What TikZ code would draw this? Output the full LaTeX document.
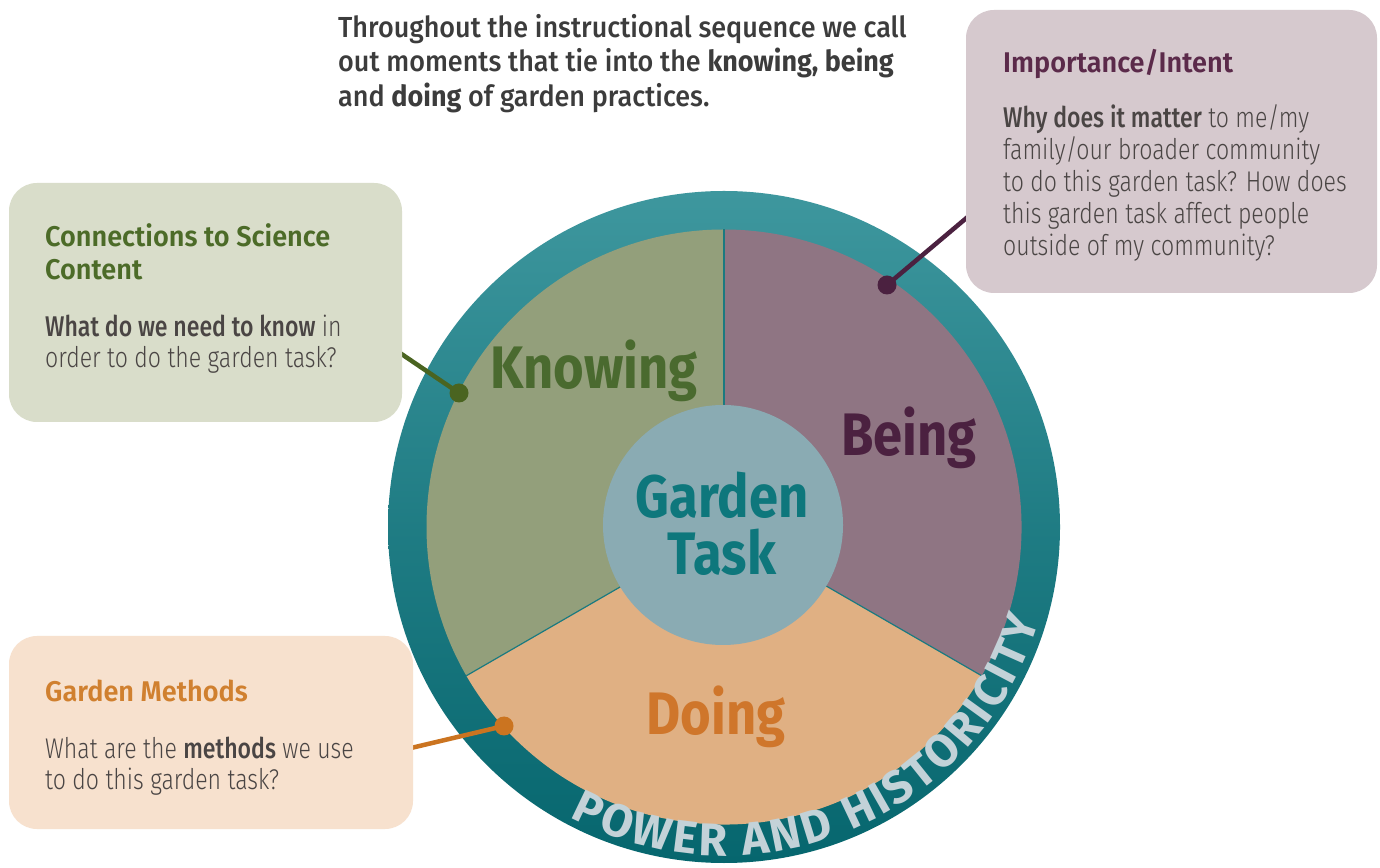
\documentclass[tikz,border=0pt]{standalone}
\usepackage{fontspec}
\usetikzlibrary{decorations.text}
\setmainfont{Fira Sans}
\newfontfamily\tfont[FakeStretch=0.93]{Fira Sans Medium}
\newfontfamily\tbold[FakeStretch=0.93]{Fira Sans Bold}
\newfontfamily\hfont[FakeStretch=0.95]{Fira Sans SemiBold}
\newfontfamily\bfont[FakeStretch=0.81]{Fira Sans Light}
\newfontfamily\bbold[FakeStretch=0.81]{Fira Sans Medium}
\newfontfamily\bigfont[FakeStretch=0.875]{Fira Sans Bold}
\newfontfamily\ringfont{Fira Sans Bold}
\definecolor{titlecol}{HTML}{3C3C3C}
\definecolor{bodycol}{HTML}{4A4544}
\definecolor{ringtop}{HTML}{3E979E}
\definecolor{ringbot}{HTML}{06666E}
\definecolor{ringtext}{HTML}{C3D2D8}
\definecolor{knowfill}{HTML}{939F7B}
\definecolor{knowtext}{HTML}{4A6A2F}
\definecolor{beingfill}{HTML}{8F7583}
\definecolor{beingtext}{HTML}{4B2140}
\definecolor{doingfill}{HTML}{E0B083}
\definecolor{doingtext}{HTML}{CF762B}
\definecolor{centerfill}{HTML}{8AABB3}
\definecolor{centertext}{HTML}{0E777C}
\definecolor{divider}{HTML}{1A7A80}
\definecolor{gbox}{HTML}{D9DDCA}
\definecolor{ghead}{HTML}{4C6B28}
\definecolor{gline}{HTML}{4A6420}
\definecolor{pbox}{HTML}{D6C9CE}
\definecolor{phead}{HTML}{5B2A4A}
\definecolor{pline}{HTML}{4B2140}
\definecolor{obox}{HTML}{F7E1CE}
\definecolor{ohead}{HTML}{D0802F}
\definecolor{oline}{HTML}{CB7420}
\tikzset{
  infobox/.style={rounded corners=28pt, inner sep=0pt, draw=none},
  titletxt/.style={anchor=base west, inner sep=0pt, text=titlecol, font=\tfont\fontsize{29}{35}\selectfont},
  headtxt/.style={anchor=base west, inner sep=0pt, font=\hfont\fontsize{28.5}{33}\selectfont},
  bodytxt/.style={anchor=base west, inner sep=0pt, text=bodycol, font=\bfont\fontsize{28.5}{32}\selectfont},
  bigtxt/.style={anchor=base, inner sep=0pt, font=\bigfont\fontsize{60}{60}\selectfont},
  dot/.style={circle, inner sep=0pt, minimum size=19pt},
  conn/.style={line width=4.5pt}
}
\begin{document}
\begin{tikzpicture}[x=1pt,y=1pt]
\useasboundingbox (0,0) rectangle (1380,867);
\fill[white] (0,0) rectangle (1380,867);
\coordinate (C) at (724,340);
% ring
\shade[top color=ringtop, bottom color=ringbot, middle color=ringtop!45!ringbot] (C) circle (336);
% sectors
\fill[knowfill] (C) -- ++(90:297.5) arc (90:210:297.5) -- cycle;
\fill[doingfill] (C) -- ++(210:297.5) arc (210:330:297.5) -- cycle;
\fill[beingfill] (C) -- ++(330:297.5) arc (330:450:297.5) -- cycle;
\draw[divider, line width=1.2pt] (C) -- ++(90:297.5);
\draw[divider, line width=1.2pt] (C) -- ++(210:297.5);
\draw[divider, line width=1.2pt] (C) -- ++(330:297.5);
% center
\node[circle, fill=centerfill, minimum size=240pt, inner sep=0pt] (task) at (723,342) {};
\node[bigtxt, text=centertext] (garden) at (722,349) {Garden};
\node[bigtxt, text=centertext] (tasklbl) at (722,292) {Task};
\node[bigtxt, text=knowtext] (knowing) at (594,478) {Knowing};
\node[bigtxt, text=beingtext] (being) at (909,411) {Being};
\node[bigtxt, text=doingtext] (doing) at (716,132) {Doing};
% ring text
\path[decorate, decoration={text along path, text align=fit to path,
  text={|\ringfont\fontsize{46}{46}\selectfont\color{ringtext}|POWER AND HISTORICITY}}]
  (C) ++(242:329) arc (242:343.5:329);
% title
\node[titletxt] (t1) at (338,829) {Throughout the instructional sequence we call};
\node[titletxt] (t2) at (338,795) {out moments that tie into the {\tbold knowing, being}};
\node[titletxt] (t3) at (338,760) {and {\tbold doing} of garden practices.};
% connectors
\node[dot, fill=gline] (gdot) at (459,474) {};
\node[dot, fill=pline] (pdot) at (887,582) {};
\node[dot, fill=oline] (odot) at (504,141) {};
\coordinate (gend) at (400,514);
\coordinate (pend) at (970,652);
\coordinate (oend) at (411,119);
\draw[conn, gline] (gdot.center) -- (gend);
\draw[conn, pline] (pdot.center) -- (pend);
\draw[conn, oline] (odot.center) -- (oend);
% boxes
\node[infobox, fill=gbox, minimum width=393pt, minimum height=239pt] (greenbox) at (205.5,564.5) {};
\node[infobox, fill=pbox, minimum width=411pt, minimum height=283pt] (purplebox) at (1171.5,715.5) {};
\node[infobox, fill=obox, minimum width=404pt, minimum height=193pt] (orangebox) at (211,134.5) {};
% green box text
\node[headtxt, text=ghead] (gh1) at (45,620) {Connections to Science};
\node[headtxt, text=ghead] (gh2) at (45,587) {Content};
\node[bodytxt] (gb1) at (45,530) {{\bbold What do we need to know} in};
\node[bodytxt] (gb2) at (45,499) {order to do the garden task?};
% purple box text
\node[headtxt, text=phead] (ph1) at (1003,794) {Importance/Intent};
\node[bodytxt] (pb1) at (1003,739) {{\bbold Why does it matter} to me/my};
\node[bodytxt] (pb2) at (1003,707) {family/our broader community};
\node[bodytxt] (pb3) at (1003,675) {to do this garden task? How does};
\node[bodytxt] (pb4) at (1003,643) {this garden task affect people};
\node[bodytxt] (pb5) at (1003,611) {outside of my community?};
% orange box text
\node[headtxt, text=ohead] (oh1) at (45,165) {Garden Methods};
\node[bodytxt] (ob1) at (45,109) {What are the {\bbold methods} we use};
\node[bodytxt] (ob2) at (45,78) {to do this garden task?};
\end{tikzpicture}
\end{document}
